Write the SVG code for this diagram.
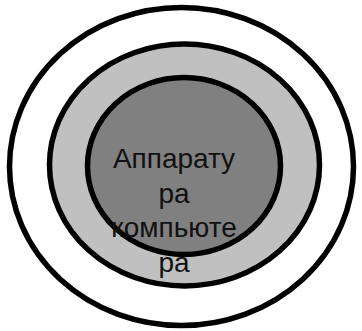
<svg xmlns="http://www.w3.org/2000/svg" width="362" height="331" viewBox="0 0 362 331">
<style>
.ring{stroke:#000;stroke-width:5.5}
.lbl{font-family:"Liberation Sans",Arial,sans-serif;font-size:28px;fill:#111;text-anchor:middle}
</style>
<rect width="362" height="331" fill="#fff"/>
<g id="outer"><ellipse class="ring" cx="181.5" cy="166.5" rx="172" ry="159" fill="#fff"/></g>
<g id="middle"><ellipse class="ring" cx="184.5" cy="165" rx="135" ry="121" fill="#c0c0c0"/></g>
<g id="inner"><ellipse class="ring" cx="184" cy="166" rx="96.5" ry="88.5" fill="#808080"/></g>
<g id="label">
<text class="lbl" x="174" y="167.5">Аппарату</text>
<text class="lbl" x="174" y="202.5">ра</text>
<text class="lbl" x="174" y="237">компьюте</text>
<text class="lbl" x="174" y="271.5">ра</text>
</g>
</svg>
